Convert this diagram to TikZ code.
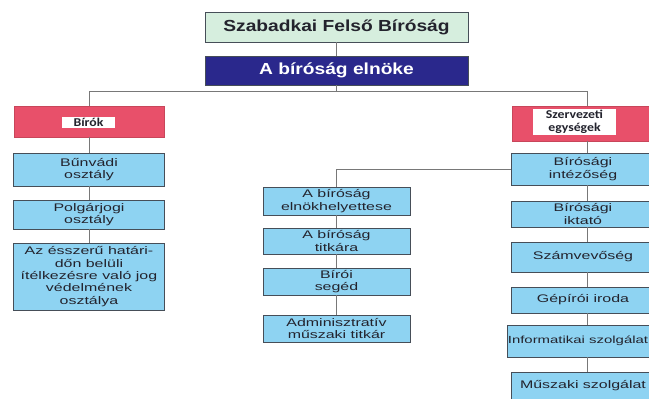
\documentclass[tikz,border=0pt]{standalone}
\usepackage{fontspec}
\newfontfamily\arialx[FakeStretch=1.45]{Liberation Sans}
\newfontfamily\titlef[FakeStretch=1.2]{Liberation Sans}
\newfontfamily\calx[FakeStretch=1.15]{Carlito}
\definecolor{greenfill}{RGB}{214,238,222}
\definecolor{navyfill}{RGB}{42,40,140}
\definecolor{pinkfill}{RGB}{232,80,106}
\definecolor{pinkline}{RGB}{200,70,90}
\definecolor{skyfill}{RGB}{142,211,242}
\definecolor{boxline}{RGB}{70,78,88}
\definecolor{linegray}{RGB}{120,120,120}
\definecolor{txtdark}{RGB}{35,35,45}
\begin{document}
\begin{tikzpicture}[x=1pt,y=-1pt,
  conn/.style={draw=linegray,line width=0.9pt},
  bluebox/.style={draw=boxline,line width=0.8pt,fill=skyfill,minimum width=151,inner sep=0pt,align=center,text=txtdark,font=\arialx\fontsize{11}{12.3}\selectfont},
  midbox/.style={bluebox,minimum width=147},
  rbox/.style={bluebox,minimum width=144},
  pinkbox/.style={draw=pinkline,line width=0.8pt,fill=pinkfill,inner sep=0pt},
  labelbox/.style={fill=white,inner sep=0pt,align=center,text=txtdark,font=\calx\bfseries\fontsize{12}{12.7}\selectfont},
  headbox/.style={draw=boxline,line width=0.9pt,minimum width=263,inner sep=0pt,font=\titlef\bfseries\fontsize{16}{18}\selectfont}
  ]
\path[use as bounding box,clip] (0,0) rectangle (649,399);
\fill[white] (0,0) rectangle (649,399);

% head
\node[headbox,fill=greenfill,text=txtdark,minimum height=30] (top) at (336.5,27) {Szabadkai Felső Bíróság};
\node[headbox,fill=navyfill,text=white,minimum height=29] (pres) at (336.5,70.5) {A bíróság elnöke};

% pink group heads
\node[pinkbox,minimum width=150,minimum height=31] (birok) at (89,121.5) {};
\node[labelbox,minimum width=53,minimum height=11] (birokL) at (88.5,122.5) {Bírók};
\node[pinkbox,minimum width=150,minimum height=35] (szerv) at (587,123.5) {};
\node[labelbox,minimum width=83,minimum height=26] (szervL) at (574.5,122) {Szervezeti\\egységek};

% left column
\node[bluebox,minimum height=33] (bunv) at (89,169.5) {Bűnvádi\\osztály};
\node[bluebox,minimum height=29] (polg) at (89,214.5) {Polgárjogi\\osztály};
\node[bluebox,minimum height=67] (assz) at (89,276.5) {Az ésszerű határi-\\dőn belüli\\ítélkezésre való jog\\védelmének\\osztálya};

% middle column
\node[midbox,minimum height=28] (elnh) at (336.5,201) {A bíróság\\elnökhelyettese};
\node[midbox,minimum height=26] (titk) at (336.5,241) {A bíróság\\titkára};
\node[midbox,minimum height=27] (seged) at (336.5,281.5) {Bírói\\segéd};
\node[midbox,minimum height=27] (admin) at (336.5,328.5) {Adminisztratív\\műszaki titkár};

% right column
\node[rbox,minimum height=32] (intez) at (583,169) {Bírósági\\intézőség};
\node[rbox,minimum height=26] (iktato) at (583,214) {Bírósági\\iktató};
\node[rbox,minimum height=30] (szamv) at (583,257) {Számvevőség};
\node[rbox,minimum height=26] (gepiro) at (583,300) {Gépírói iroda};
\node[rbox,minimum width=152,minimum height=32,font=\arialx\fontsize{10.3}{12}\selectfont] (info) at (583,341) {Informatikai szolgálat\hspace*{10pt}};
\node[rbox,minimum height=28] (musz) at (583,386) {Műszaki szolgálat};

% connectors
\coordinate (bus) at (336.5,91);
\draw[conn] (top.south) -- (pres.north);
\draw[conn] (pres.south) -- (bus);
\draw[conn] (birok.north) |- (bus);
\draw[conn] (szerv.north) |- (bus);

\draw[conn] (birok.south) -- (bunv.north);
\draw[conn] (bunv.south) -- (polg.north);
\draw[conn] (polg.south) -- (assz.north);

\draw[conn] (elnh.north) |- (intez.west);
\draw[conn] (elnh.south) -- (titk.north);
\draw[conn] (titk.south) -- (seged.north);
\draw[conn] (seged.south) -- (admin.north);

\draw[conn] (szerv.south) -- (szerv.south |- intez.north);
\draw[conn] ([xshift=4pt]intez.south) -- ([xshift=4pt]iktato.north);
\draw[conn] ([xshift=4pt]iktato.south) -- ([xshift=4pt]szamv.north);
\draw[conn] ([xshift=4pt]szamv.south) -- ([xshift=4pt]gepiro.north);
\draw[conn] ([xshift=4pt]gepiro.south) -- ([xshift=4pt]info.north);
\draw[conn] ([xshift=4pt]info.south) -- ([xshift=4pt]musz.north);
\end{tikzpicture}
\end{document}
